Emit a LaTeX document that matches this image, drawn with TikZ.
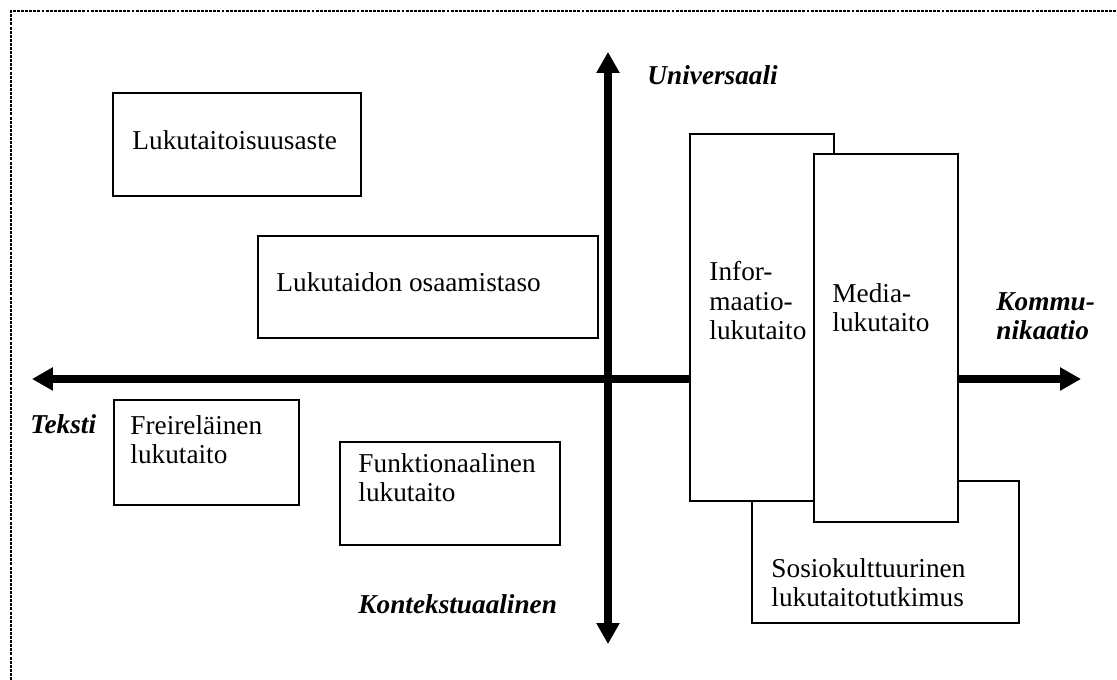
\documentclass[tikz,border=0pt]{standalone}
\usepackage{fontspec}
\setmainfont{Liberation Serif}
\usetikzlibrary{arrows.meta}

\tikzset{
	box/.style = {draw = black, line width = 0.8pt, fill = white},
	axis/.style = {line width = 3.5pt, >={Triangle[width = 9.7pt, length = 9.2pt]}, <->},
	frame/.style = {line width = 0.7pt, dash pattern = on 1.3pt off 0.5pt},
	txt/.style = {anchor = base west, inner sep = 0pt, align = left, font = \fontsize{12pt}{13pt}\selectfont},
	dir/.style = {txt, font = \fontsize{12pt}{13pt}\selectfont\bfseries\itshape}
}

\begin{document}
\begin{tikzpicture}[x = 0.44pt, y = -0.44pt]
	\useasboundingbox (0,0) rectangle (1117,680);
	
	\draw[frame] (11,680) -- (11,11) -- (1117,11);
	
	% axes
	\coordinate (up) at (608,52);
	\coordinate (down) at (608,644);
	\coordinate (left) at (32,379);
	\coordinate (right) at (1081,379);
	\draw[axis] (down) -- (up);
	\draw[axis] (left) -- (right);
	
	% boxes, later ones cover earlier ones
	\draw[box] (113,93) rectangle (361,196);
	\draw[box] (258,236) rectangle (598,338);
	\draw[box] (114,400) rectangle (299,505);
	\draw[box] (340,442) rectangle (560,545);
	\draw[box] (752,481) rectangle (1019,623);
	\draw[box] (690,134) rectangle (834,501);
	\draw[box] (814,154) rectangle (958,522);
	
	% multi-line nodes sit on the baseline of their last line
	\node[txt] (aste) at (132,150) {Lukutaitoisuusaste};
	\node[txt] (taso) at (276,292) {Lukutaidon osaamistaso};
	\node[txt] (freire) at (130,464) {Freireläinen\\lukutaito};
	\node[txt] (funktio) at (358,502) {Funktionaalinen\\lukutaito};
	\node[txt] (info) at (709,340) {Infor-\\maatio-\\lukutaito};
	\node[txt] (media) at (832,332) {Media-\\lukutaito};
	\node[txt] (sosio) at (771,607) {Sosiokulttuurinen\\lukutaitotutkimus};
	
	\node[dir] (univ) at (647,85) {Universaali};
	\node[dir] (komm) at (996,340) {Kommu-\\nikaatio};
	\node[dir] (teksti) at (30,434) {Teksti};
	\node[dir] (konteksti) at (358,614) {Kontekstuaalinen};
\end{tikzpicture}
\end{document}
